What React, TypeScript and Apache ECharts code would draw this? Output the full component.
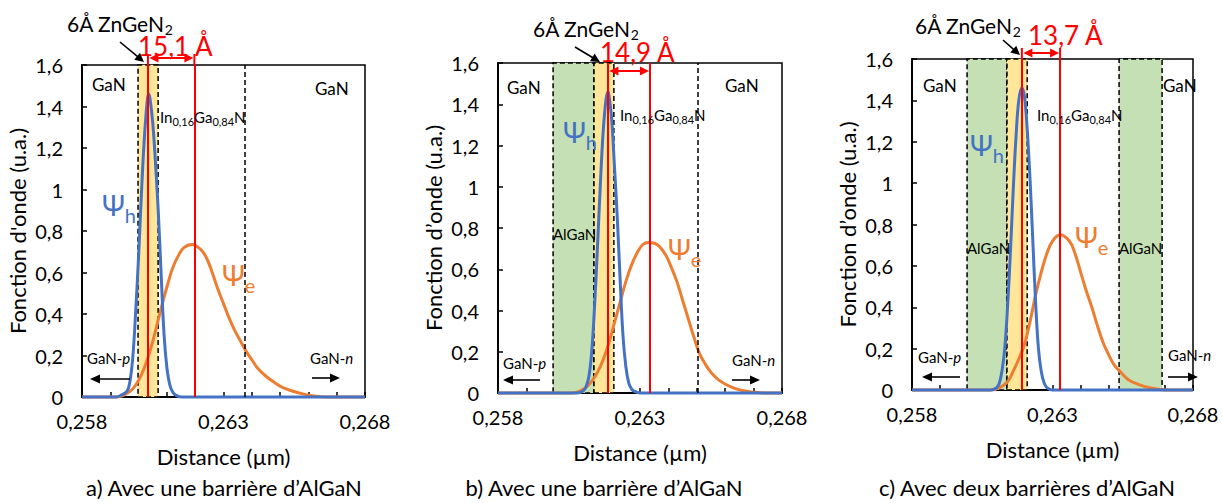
import React, { useEffect, useRef } from "react";
import * as echarts from "echarts";

const FONT = "Lato, 'Open Sans', sans-serif";
const BLUE = "#4472C4";
const ORANGE = "#ED7D31";
const RED = "#FF0000";
const YELLOW = "#FFE699";
const GREEN = "#C5E0B4";

// axes (µm)
const xAxisMin = 0.258;
const xAxisMax = 0.268;
const xTickStep = 0.001;
const xLabelValues = [0.258, 0.263, 0.268];
const yAxisMax = 1.6;
const yTickStep = 0.2;

// ---- panel a ----
const psiH_a_x = [0.258, 0.2592, 0.2594, 0.2596, 0.2597, 0.2598, 0.2599, 0.26, 0.2601, 0.2602, 0.2603, 0.26035, 0.2604, 0.2605, 0.2606, 0.2607, 0.2608, 0.2609, 0.261, 0.2611, 0.2612, 0.2613, 0.2615, 0.268];
const psiH_a_y = [0, 0, 0.01, 0.03, 0.08, 0.2, 0.42, 0.68, 0.98, 1.24, 1.42, 1.46, 1.44, 1.32, 1.12, 0.88, 0.58, 0.3, 0.14, 0.06, 0.025, 0.01, 0, 0];
const psiE_a_x = [0.258, 0.2592, 0.2595, 0.2598, 0.26, 0.2602, 0.2604, 0.2606, 0.2608, 0.261, 0.2612, 0.2614, 0.2616, 0.2619, 0.2622, 0.2624, 0.2626, 0.2628, 0.263, 0.2632, 0.2634, 0.2636, 0.2638, 0.264, 0.2642, 0.2645, 0.2648, 0.2651, 0.2654, 0.2658, 0.2662, 0.2666, 0.268];
const psiE_a_y = [0, 0, 0.01, 0.04, 0.08, 0.14, 0.22, 0.32, 0.43, 0.53, 0.62, 0.68, 0.72, 0.735, 0.71, 0.67, 0.6, 0.52, 0.45, 0.38, 0.32, 0.27, 0.22, 0.18, 0.14, 0.1, 0.07, 0.045, 0.03, 0.015, 0.005, 0, 0];

// ---- panel b ----
const psiH_b_x = [0.258, 0.2608, 0.261, 0.2611, 0.2612, 0.2613, 0.2614, 0.2615, 0.2616, 0.2617, 0.2618, 0.26187, 0.2619, 0.262, 0.2621, 0.2622, 0.2623, 0.2624, 0.2625, 0.2626, 0.2627, 0.2628, 0.263, 0.268];
const psiH_b_y = [0, 0, 0.01, 0.03, 0.08, 0.2, 0.42, 0.7, 1.0, 1.26, 1.42, 1.46, 1.45, 1.33, 1.1, 0.85, 0.55, 0.28, 0.13, 0.05, 0.02, 0.008, 0, 0];
const psiE_b_x = [0.258, 0.2606, 0.2609, 0.2612, 0.2615, 0.2617, 0.2619, 0.2621, 0.2623, 0.2625, 0.2627, 0.2629, 0.2631, 0.2633, 0.2636, 0.2639, 0.2641, 0.2643, 0.2645, 0.2647, 0.2649, 0.2651, 0.2653, 0.2655, 0.2658, 0.2662, 0.2666, 0.267, 0.2674, 0.268];
const psiE_b_y = [0, 0, 0.01, 0.04, 0.1, 0.16, 0.24, 0.34, 0.44, 0.54, 0.62, 0.68, 0.72, 0.73, 0.72, 0.67, 0.61, 0.54, 0.45, 0.36, 0.27, 0.19, 0.14, 0.1, 0.06, 0.03, 0.012, 0.004, 0, 0];

// ---- panel c ----
const psiH_c_x = [0.258, 0.2608, 0.261, 0.2611, 0.2612, 0.2613, 0.2614, 0.2615, 0.2616, 0.2617, 0.2618, 0.26191, 0.262, 0.2621, 0.2622, 0.2623, 0.2624, 0.2625, 0.2626, 0.2627, 0.2628, 0.263, 0.268];
const psiH_c_y = [0, 0, 0.01, 0.03, 0.09, 0.2, 0.4, 0.66, 0.96, 1.22, 1.4, 1.46, 1.42, 1.26, 1.02, 0.72, 0.42, 0.2, 0.09, 0.035, 0.012, 0, 0];
const psiE_c_x = [0.258, 0.2608, 0.2611, 0.2614, 0.2616, 0.2618, 0.262, 0.2622, 0.2624, 0.2626, 0.2628, 0.263, 0.26327, 0.2636, 0.2638, 0.264, 0.2642, 0.2644, 0.2646, 0.2648, 0.265, 0.2652, 0.2654, 0.2657, 0.2661, 0.2665, 0.267, 0.268];
const psiE_c_y = [0, 0, 0.01, 0.04, 0.09, 0.15, 0.22, 0.33, 0.46, 0.57, 0.66, 0.72, 0.75, 0.72, 0.66, 0.57, 0.48, 0.4, 0.31, 0.23, 0.17, 0.12, 0.09, 0.05, 0.025, 0.01, 0, 0];

// layer structure (µm)
const zngenBands = [[0.25998, 0.26069], [0.26138, 0.26208], [0.26138, 0.2621]];
const alganBands = [[], [[0.25994, 0.26138]], [[0.25996, 0.26138], [0.26537, 0.2669]]];
const interfaceLines = [[0.26374], [0.26504], []];
const redLines = [[0.26033, 0.26197], [0.26187, 0.26335], [0.26191, 0.26327]];
const distanceLabels = ["15,1 Å", "14,9 Å", "13,7 Å"];
const yNames = ["Fonction d'onde (u.a.)", "Fonction d\u2019onde (u.a.)", "Fonction d\u2019onde (u.a.)"];
const subtitles = ["a) Avec une barrière d\u2019AlGaN", "b) Avec une barrière d\u2019AlGaN", "c) Avec deux barrières d\u2019AlGaN"];

const psiH = [[psiH_a_x, psiH_a_y], [psiH_b_x, psiH_b_y], [psiH_c_x, psiH_c_y]];
const psiE = [[psiE_a_x, psiE_a_y], [psiE_b_x, psiE_b_y], [psiE_c_x, psiE_c_y]];

// layout
const GRIDS = [
  { left: 82, top: 65, width: 283, height: 332 },
  { left: 498, top: 63, width: 284, height: 330 },
  { left: 912, top: 59, width: 281, height: 331 },
];
const ANN = [
  { zn: [67, 23], dist: [138, 46], blackArrow: [120, 42, 144, 62], arrowY: 58, redTop: 54, ganL: [92, 84], ganR: [315, 88], inGa: [160, 117], psiH: [102, 205], algan: [] as number[][], psiE: [222, 275], ganP: [87, 358], arrowP: [130, 90, 379], ganN: [310, 358], arrowN: [312, 340, 378], sub: 224 },
  { zn: [533, 28], dist: [600, 52], blackArrow: [575, 47, 600, 62], arrowY: 71, redTop: 63, ganL: [507, 87], ganR: [725, 85], inGa: [620, 115], psiH: [563, 132], algan: [[553, 234]], psiE: [668, 249], ganP: [503, 363], arrowP: [540, 503, 380], ganN: [732, 360], arrowN: [732, 760, 380], sub: 604 },
  { zn: [915, 25], dist: [1028, 35], blackArrow: [1003, 40, 1020, 55], arrowY: 53, redTop: 48, ganL: [923, 85], ganR: [1163, 85], inGa: [1037, 115], psiH: [970, 145], algan: [[967, 248], [1119, 248]], psiE: [1075, 237], ganP: [918, 357], arrowP: [960, 922, 377], ganN: [1168, 355], arrowN: [1168, 1198, 377], sub: 1027 },
];

const toNm = (v: number) => v * 1000;
const xLabelNm = xLabelValues.map((v) => Math.round(v * 1000));

let measureCtx: CanvasRenderingContext2D | null = null;
function measure(t: string, size: number, italic = false) {
  if (!measureCtx) measureCtx = document.createElement("canvas").getContext("2d");
  if (!measureCtx) return t.length * size * 0.55;
  measureCtx.font = `${italic ? "italic " : ""}${size}px ${FONT}`;
  return measureCtx.measureText(t).width;
}

function arrow(x1: number, y1: number, x2: number, y2: number, color: string, lw: number, both: boolean, hl = 9, hw = 4.5) {
  const dx = x2 - x1, dy = y2 - y1;
  const L = Math.hypot(dx, dy);
  const ux = dx / L, uy = dy / L;
  const px = -uy, py = ux;
  const els: any[] = [];
  const sx = both ? x1 + ux * hl * 0.7 : x1;
  const sy = both ? y1 + uy * hl * 0.7 : y1;
  const ex = x2 - ux * hl * 0.7, ey = y2 - uy * hl * 0.7;
  els.push({ type: "line", z: 40, silent: true, shape: { x1: sx, y1: sy, x2: ex, y2: ey }, style: { stroke: color, lineWidth: lw } });
  const head = (tx: number, ty: number, dxu: number, dyu: number) => ({
    type: "polygon", z: 40, silent: true,
    shape: { points: [[tx, ty], [tx - dxu * hl + px * hw, ty - dyu * hl + py * hw], [tx - dxu * hl - px * hw, ty - dyu * hl - py * hw]] },
    style: { fill: color },
  });
  els.push(head(x2, y2, ux, uy));
  if (both) els.push(head(x1, y1, -ux, -uy));
  return els;
}

function txt(x: number, y: number, text: string, extra: any = {}) {
  return {
    type: "text", x, y, z: 50, silent: true,
    style: { text, fill: "#000", fontFamily: FONT, fontSize: 15, textAlign: "left", textVerticalAlign: "middle", align: "left", verticalAlign: "middle", ...extra },
  };
}

type Part = { t: string; size: number; dy?: number; color?: string; italic?: boolean };
function segs(x: number, y: number, parts: Part[]) {
  let cx = x;
  const out: any[] = [];
  parts.forEach((p) => {
    out.push(txt(cx, y + (p.dy || 0), p.t, { fontSize: p.size, lineHeight: Math.round(p.size * 0.9), fill: p.color || "#000", fontStyle: p.italic ? "italic" : "normal" }));
    cx += measure(p.t, p.size, p.italic);
  });
  return out;
}

function buildOption() {
  const grid = GRIDS.map((g) => ({ ...g, show: true, borderColor: "#000", borderWidth: 1.5, backgroundColor: "transparent", containLabel: false }));
  const xAxis = GRIDS.map((_, i) => ({
    type: "value", gridIndex: i, min: toNm(xAxisMin), max: toNm(xAxisMax), interval: toNm(xTickStep),
    name: "Distance (\u00b5m)", nameLocation: "middle", nameGap: 48,
    nameTextStyle: { fontFamily: FONT, fontSize: 22, color: "#000" },
    axisLine: { show: true, onZero: false, lineStyle: { color: "#000", width: 2 } },
    axisTick: { show: true, inside: true, length: 5, lineStyle: { color: "#000", width: 1.5 } },
    splitLine: { show: false },
    axisLabel: {
      margin: 14, fontFamily: FONT, fontSize: 20, color: "#000", showMinLabel: true, showMaxLabel: true,
      formatter: (v: number) => { const n = Math.round(v); return xLabelNm.includes(n) ? (n / 1000).toFixed(3).replace(".", ",") : ""; },
    },
  }));
  const yAxis = GRIDS.map((_, i) => ({
    type: "value", gridIndex: i, min: 0, max: yAxisMax, interval: yTickStep,
    name: yNames[i], nameLocation: "middle", nameGap: 54, nameRotate: 90,
    nameTextStyle: { fontFamily: FONT, fontSize: 22, color: "#000" },
    axisLine: { show: true, onZero: false, lineStyle: { color: "#000", width: 2 } },
    axisTick: { show: true, inside: true, length: 5, lineStyle: { color: "#000", width: 1.5 } },
    splitLine: { show: false },
    axisLabel: {
      margin: 19, fontFamily: FONT, fontSize: 20, color: "#000",
      formatter: (v: number) => v.toFixed(1).replace(".", ",").replace(",0", ""),
    },
  }));
  const series: any[] = [];
  GRIDS.forEach((_, i) => {
    const bands: any[] = [];
    alganBands[i].forEach((b) => bands.push([{ xAxis: toNm(b[0]), itemStyle: { color: GREEN, borderColor: "#000", borderWidth: 1.5, borderType: [5, 3] } }, { xAxis: toNm(b[1]) }]));
    const zb = zngenBands[i];
    bands.push([{ xAxis: toNm(zb[0]), itemStyle: { color: YELLOW, borderColor: "#000", borderWidth: 1.5, borderType: [5, 3] } }, { xAxis: toNm(zb[1]) }]);
    series.push({
      type: "line", xAxisIndex: i, yAxisIndex: i, data: [], z: 1, silent: true,
      markArea: { silent: true, data: bands, label: { show: false } },
      markLine: {
        silent: true, symbol: ["none", "none"], label: { show: false },
        lineStyle: { color: "#000", width: 1.5, type: [5, 3] },
        data: interfaceLines[i].map((v) => ({ xAxis: toNm(v) })),
      },
    });
    const [ex, ey] = psiE[i];
    series.push({
      type: "line", name: "psiE", xAxisIndex: i, yAxisIndex: i, z: 2, clip: false,
      showSymbol: false, symbol: "none", smooth: 0.4,
      lineStyle: { color: ORANGE, width: 3 },
      data: ex.map((x, k) => [toNm(x), ey[k]]),
    });
    const [hx, hy] = psiH[i];
    series.push({
      type: "line", name: "psiH", xAxisIndex: i, yAxisIndex: i, z: 3, clip: false,
      showSymbol: false, symbol: "none", smooth: 0.4,
      lineStyle: { color: BLUE, width: 3 },
      data: hx.map((x, k) => [toNm(x), hy[k]]),
    });
    series.push({
      type: "line", xAxisIndex: i, yAxisIndex: i, data: [], z: 4, silent: true,
      markLine: {
        silent: true, symbol: ["none", "none"], label: { show: false },
        lineStyle: { color: RED, width: 2, type: "solid" },
        data: redLines[i].map((v) => ({ xAxis: toNm(v) })),
      },
    });
  });
  return { animation: false, backgroundColor: "#fff", textStyle: { fontFamily: FONT }, grid, xAxis, yAxis, series };
}

function buildGraphics(chart: any) {
  const els: any[] = [];
  GRIDS.forEach((g, i) => {
    const a = ANN[i];
    const p1 = chart.convertToPixel({ gridIndex: i }, [toNm(redLines[i][0]), 0]);
    const p2 = chart.convertToPixel({ gridIndex: i }, [toNm(redLines[i][1]), 0]);
    if (a.redTop < g.top) {
      [p1[0], p2[0]].forEach((px: number) => els.push({ type: "line", z: 35, silent: true, shape: { x1: px, y1: a.redTop, x2: px, y2: g.top }, style: { stroke: RED, lineWidth: 2 } }));
    }
    els.push(...arrow(p1[0] + 1.5, a.arrowY, p2[0] - 1, a.arrowY, RED, 2, true, 9, 4.5));
    const [bx1, by1, bx2, by2] = a.blackArrow;
    els.push(...arrow(bx1, by1, bx2, by2, "#000", 1.6, false, 9, 4.5));
    els.push(...arrow(a.arrowP[0], a.arrowP[2], a.arrowP[1], a.arrowP[2], "#000", 1.6, false, 10, 4.5));
    els.push(...arrow(a.arrowN[0], a.arrowN[2], a.arrowN[1], a.arrowN[2], "#000", 1.6, false, 10, 4.5));

    els.push(...segs(a.zn[0], a.zn[1], [{ t: "6Å ZnGeN", size: 21 }, { t: "2", size: 14, dy: 6 }]));
    els.push(txt(a.dist[0], a.dist[1], distanceLabels[i], { fontSize: 26, lineHeight: 20, fill: RED }));
    els.push(txt(a.ganL[0], a.ganL[1], "GaN", { fontSize: 17 }));
    els.push(txt(a.ganR[0], a.ganR[1], "GaN", { fontSize: 17 }));
    els.push(...segs(a.inGa[0], a.inGa[1], [
      { t: "In", size: 15 }, { t: "0,16", size: 11, dy: 4 }, { t: "Ga", size: 15 }, { t: "0,84", size: 11, dy: 4 }, { t: "N", size: 15 },
    ]));
    a.algan.forEach((p) => els.push(txt(p[0], p[1], "AlGaN", { fontSize: 15 })));
    els.push(...segs(a.psiH[0], a.psiH[1], [{ t: "\u03a8", size: 28, color: BLUE }, { t: "h", size: 20, dy: 10, color: BLUE }]));
    els.push(...segs(a.psiE[0], a.psiE[1], [{ t: "\u03a8", size: 28, color: ORANGE }, { t: "e", size: 20, dy: 10, color: ORANGE }]));
    els.push(...segs(a.ganP[0], a.ganP[1], [{ t: "GaN-", size: 15 }, { t: "p", size: 15, italic: true }]));
    els.push(...segs(a.ganN[0], a.ganN[1], [{ t: "GaN-", size: 15 }, { t: "n", size: 15, italic: true }]));
    els.push(txt(a.sub, 487, subtitles[i], { fontSize: 22, textAlign: "center", align: "center" }));
  });
  return els;
}

export default function App() {
  const ref = useRef<HTMLDivElement>(null);
  useEffect(() => {
    if (!ref.current) return;
    const chart = echarts.init(ref.current, undefined, { renderer: "svg" });
    chart.setOption(buildOption() as any);
    chart.setOption({ graphic: { elements: buildGraphics(chart) } } as any);
    return () => chart.dispose();
  }, []);
  return <div ref={ref} style={{ position: "fixed", left: 0, top: 0, width: 1222, height: 503, background: "#fff" }} />;
}
